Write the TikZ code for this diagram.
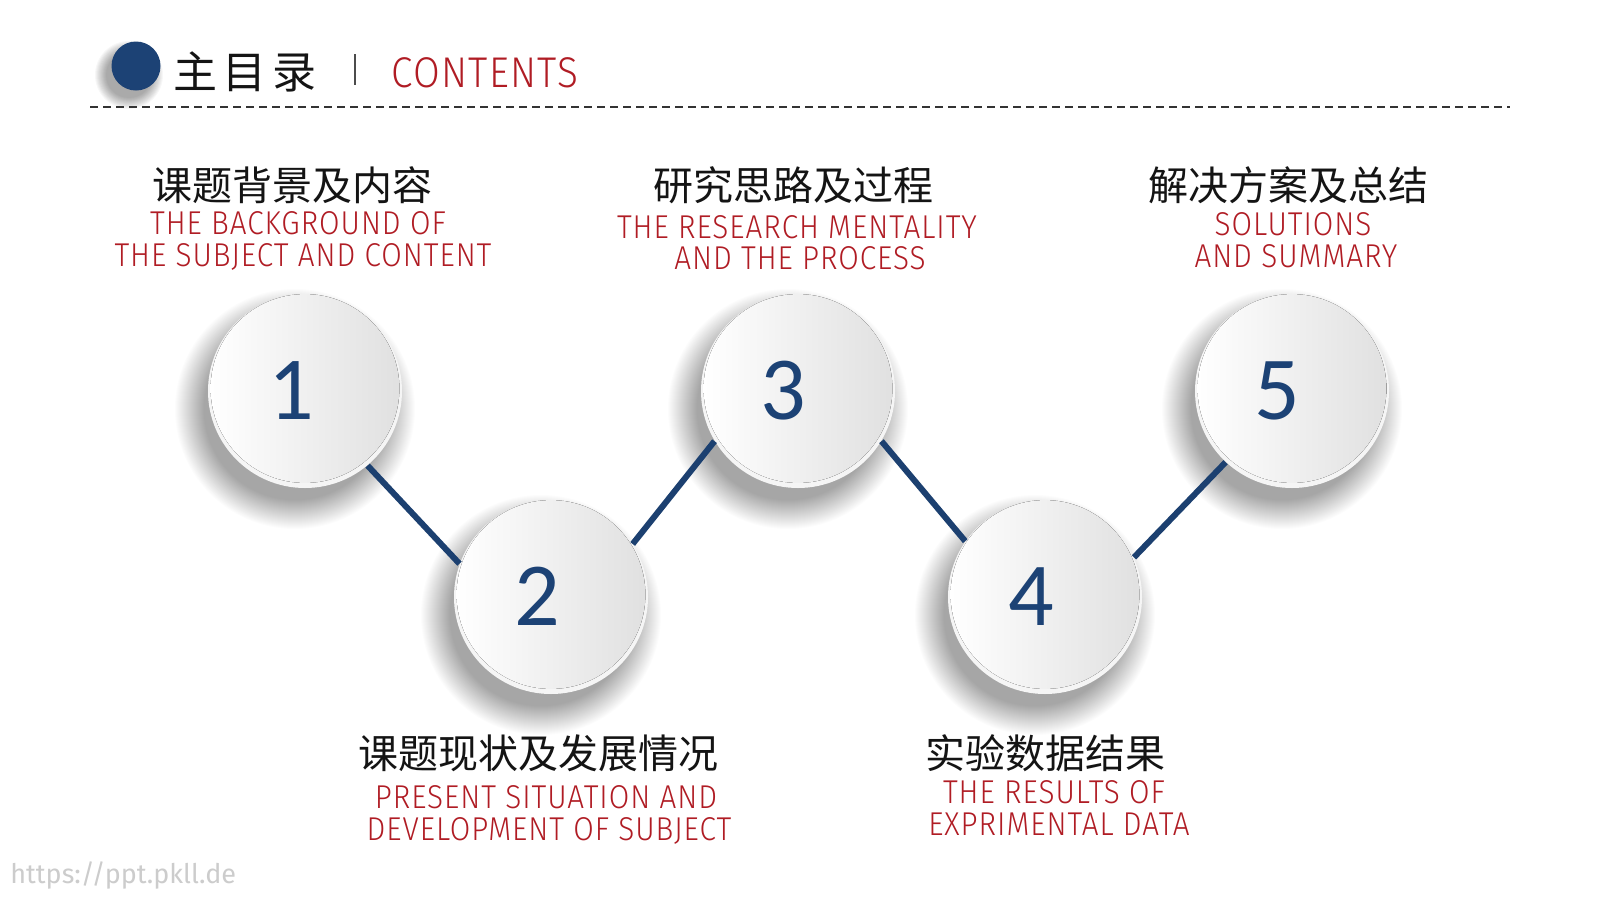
\documentclass[tikz,border=0pt]{standalone}
\usepackage{fontspec}
\setmainfont{Carlito}
\newfontfamily\cjk{Noto Sans CJK SC}
\newfontfamily\numf{Carlito}
\newfontfamily\enf[FakeStretch=0.9,LetterSpace=3]{Fira Sans Light}
\newfontfamily\wmf{Fira Sans}
\definecolor{navy}{RGB}{28,66,117}
\definecolor{navyline}{RGB}{28,64,112}
\definecolor{redt}{RGB}{176,28,36}
\definecolor{darkt}{RGB}{20,20,20}
\newcommand\ballshadow[2]{\foreach \k in {0,...,29}{\fill[black,opacity=0.012] ({#1-10},{-#2-18}) circle[radius={(60-0.5*\k)*1pt}];}}
\newcommand\ballbody[2]{%
  \fill[black!4] (#1,-#2) circle[radius=48.5pt];
  \fill[left color=white,right color=black!12] ({#1},{-#2+2.5}) circle[radius=47.2pt];
}
\begin{document}
\begin{tikzpicture}[x=0.5pt,y=0.5pt,
  ball/.style={circle,minimum size=97pt,inner sep=0pt},
  num/.style={font=\numf\fontsize{45}{45}\selectfont,text=navy,inner sep=0pt,anchor=base},
  cn/.style={font=\cjk\fontsize{20}{24}\selectfont,text=darkt,inner sep=0pt,anchor=base},
  en/.style={font=\enf\fontsize{16.5}{16}\selectfont,text=redt,inner sep=0pt,anchor=base},
  conn/.style={navyline,line width=3pt}]
\useasboundingbox (0,0) rectangle (1600,-900);
\fill[white] (0,0) rectangle (1600,-900);

% header
\foreach \k in {0,...,11}{\fill[black,opacity=0.03] (129,-75) circle[radius={(17-0.5*\k)*1pt}];}
\node[circle,fill=navy,minimum size=24.5pt,inner sep=0pt] (dot) at (136,-66) {};
\node[font=\cjk\fontsize{22}{22}\selectfont,text=darkt,inner sep=0pt,anchor=base] (title) at (245,-88) {主\hspace{3pt}目\hspace{3pt}录};
\coordinate (barTop) at (355,-54);
\coordinate (barBot) at (355,-85);
\draw[black!70,line width=0.8pt] (barTop) -- (barBot);
\node[font=\enf\fontsize{21.5}{21}\selectfont,text=redt,inner sep=0pt,anchor=base] (contents) at (485,-87) {CONTENTS};
\coordinate (dashL) at (90,-107);
\coordinate (dashR) at (1510,-107);
\draw[black!80,line width=0.7pt,dash pattern=on 4pt off 2.5pt] (dashL) -- (dashR);

% shadows
\ballshadow{305}{391}
\ballshadow{551}{597}
\ballshadow{798}{391}
\ballshadow{1045}{597}
\ballshadow{1292}{391}

% circle bodies
\ballbody{305}{391}
\ballbody{551}{597}
\ballbody{798}{391}
\ballbody{1045}{597}
\ballbody{1292}{391}

% circle nodes (outline anchors)
\node[ball] (c1) at (305,-391) {};
\node[ball] (c2) at (551,-597) {};
\node[ball] (c3) at (798,-391) {};
\node[ball] (c4) at (1045,-597) {};
\node[ball] (c5) at (1292,-391) {};

\node[num] (n1) at (291,-419) {1};
\node[num] (n2) at (537,-625) {2};
\node[num] (n3) at (783,-419) {3};
\node[num] (n4) at (1031,-625) {4};
\node[num] (n5) at (1277,-419) {5};

% connectors
\draw[conn] (c1.-50) -- (c2.160);
\draw[conn] (c2.33) -- (c3.211);
\draw[conn] (c3.-31) -- (c4.145);
\draw[conn] (c4.24) -- (c5.227);

% labels
\node[cn] (t1) at (292,-200) {课题背景及内容};
\node[en] (e1a) at (298,-234) {THE BACKGROUND OF};
\node[en] (e1b) at (303,-266) {THE SUBJECT AND CONTENT};

\node[cn] (t3) at (793,-200) {研究思路及过程};
\node[en] (e3a) at (797,-238) {THE RESEARCH MENTALITY};
\node[en] (e3b) at (800,-269) {AND THE PROCESS};

\node[cn] (t5) at (1288,-200) {解决方案及总结};
\node[en] (e5a) at (1293,-235) {SOLUTIONS};
\node[en] (e5b) at (1296,-267) {AND SUMMARY};

\node[cn] (t2) at (538,-768) {课题现状及发展情况};
\node[en] (e2a) at (546,-808) {PRESENT SITUATION AND};
\node[en] (e2b) at (549,-840) {DEVELOPMENT OF SUBJECT};

\node[cn] (t4) at (1045,-768) {实验数据结果};
\node[en] (e4a) at (1054,-803) {THE RESULTS OF};
\node[en] (e4b) at (1059,-835) {EXPRIMENTAL DATA};

% watermark
\node[font=\wmf\fontsize{13.5}{13.5}\selectfont,text=black!20,inner sep=0pt,anchor=base west] (wm) at (10,-883) {https://ppt.pkll.de};
\end{tikzpicture}
\end{document}
